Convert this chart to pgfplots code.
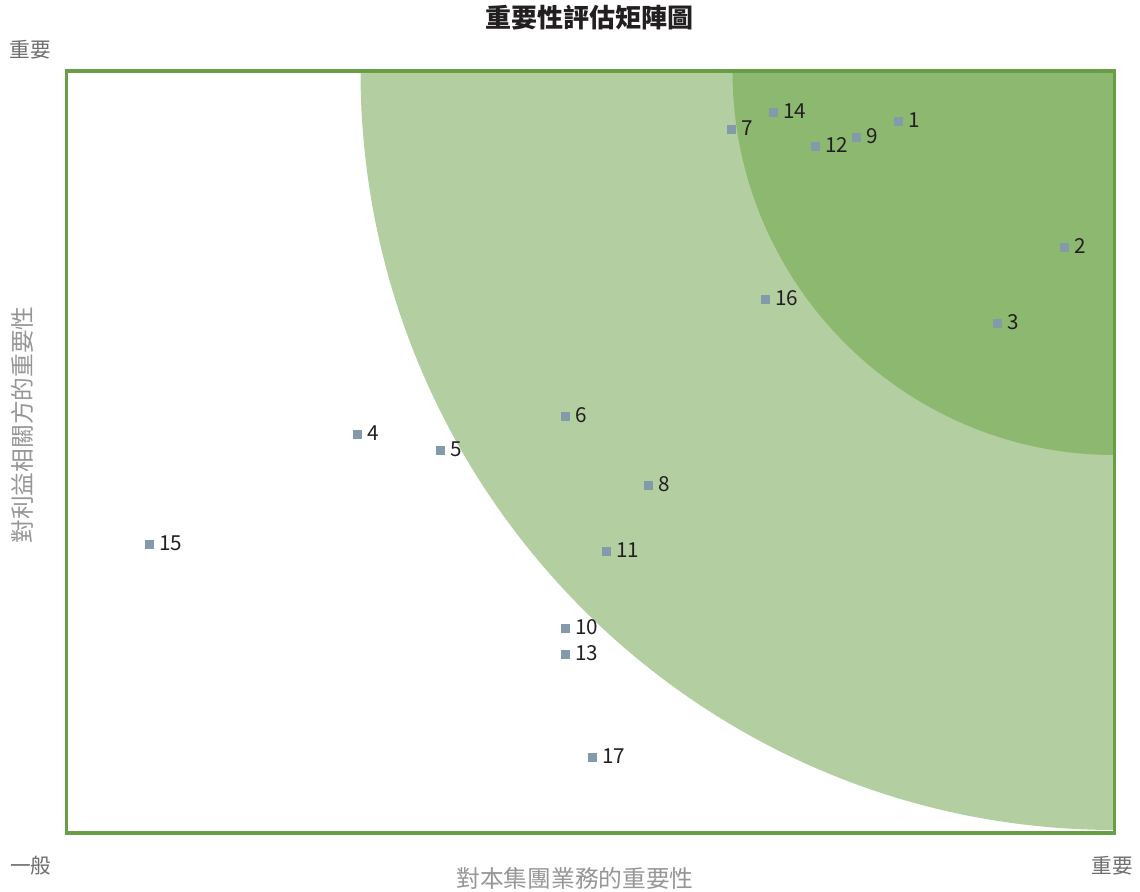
\documentclass[border=0pt]{standalone}
\usepackage{pgfplots}
\pgfplotsset{compat=1.18}
\usepackage{fontspec}
\setmainfont{Noto Sans CJK TC}
\definecolor{framegreen}{RGB}{106,158,70}
\definecolor{darkg}{RGB}{141,184,112}
\definecolor{lightg}{RGB}{179,206,161}
\definecolor{markc}{RGB}{130,154,170}
\definecolor{cornergray}{RGB}{110,110,110}
\definecolor{labelgray}{RGB}{150,150,150}
\definecolor{numc}{RGB}{35,31,32}
\begin{document}
\begin{tikzpicture}[x=0.75pt,y=0.75pt]
\path[use as bounding box] (0,0) rectangle (1140,892);
\begin{axis}[
  at={(49.875pt,44.25pt)}, anchor=south west,
  scale only axis, width=786pt, height=571.5pt,
  xmin=0, xmax=1048, ymin=0, ymax=762,
  xtick=\empty, ytick=\empty,
  axis line style={color=framegreen, line width=2.5pt},
  axis on top,
]
\fill[lightg] (axis cs:1048,762) ellipse [x radius=754, y radius=759];
\fill[darkg] (axis cs:1048,762) ellipse [x radius=382, y radius=384];
\addplot[only marks, mark=square*, mark size=3.1pt, color=markc,
  nodes near coords, point meta=explicit symbolic,
  every node near coord/.style={anchor=west, inner sep=0pt, xshift=7.5pt, yshift=0.6pt, text=numc, font=\fontsize{15.5}{18}\selectfont}]
coordinates {
(831.5,712) [1]
(997.5,586) [2]
(930.5,510) [3]
(290.5,399) [4]
(373.5,383) [5]
(498.5,417) [6]
(664.5,704) [7]
(581.5,348) [8]
(789.5,696) [9]
(498.5,205) [10]
(539.5,282) [11]
(748.5,687) [12]
(498.5,179) [13]
(706.5,721) [14]
(82.5,289) [15]
(698.5,534) [16]
(525.5,76) [17]
};
\end{axis}
\node[font=\bfseries\fontsize{19.5}{23}\selectfont, text=numc] at (589,874) {重要性評估矩陣圖};
\node[font=\fontsize{15.5}{18}\selectfont, text=cornergray] at (30,842) {重要};
\node[font=\fontsize{15.5}{18}\selectfont, text=cornergray] at (31,26) {一般};
\node[font=\fontsize{15.5}{18}\selectfont, text=cornergray] at (1112,26) {重要};
\node[font=\fontsize{17.8}{20}\selectfont, text=labelgray] at (575,14) {對本集團業務的重要性};
\node[font=\fontsize{17.8}{20}\selectfont, text=labelgray, rotate=90] at (22,467) {對利益相關方的重要性};
\end{tikzpicture}
\end{document}
